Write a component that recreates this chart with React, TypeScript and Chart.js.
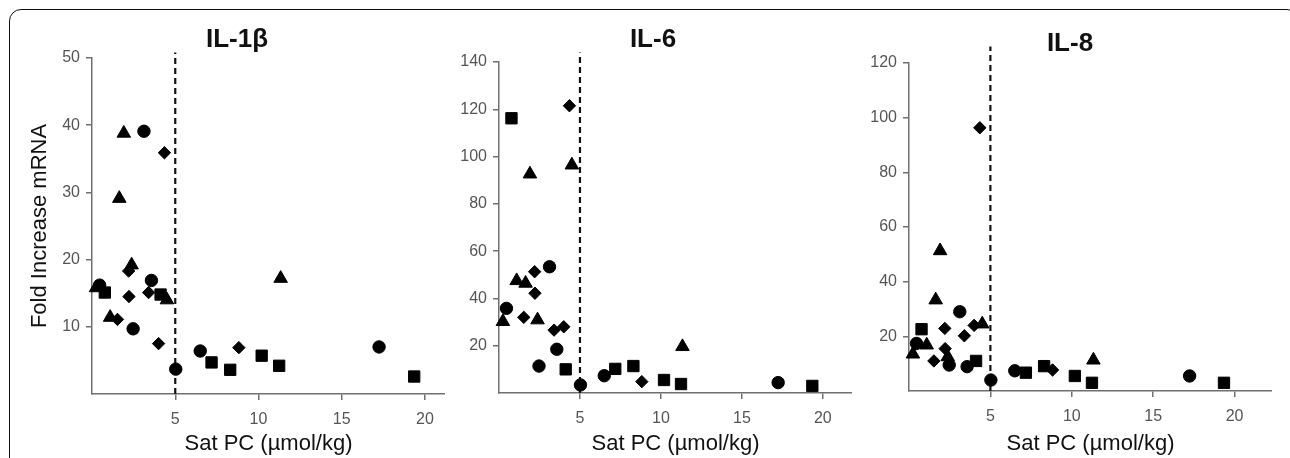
import React, { useEffect, useRef } from "react";
import { Chart, registerables } from "chart.js";

Chart.register(...registerables);

// ---- data (Sat PC, µmol/kg) shared by all three panels, one array per marker group ----
const circleX = [0.46, 2.47, 3.12, 3.57, 5.03, 6.5, 17.24];
const squareX = [0.77, 4.12, 7.18, 8.3, 10.19, 11.24, 19.35];
const triangleX = [0.24, 1.09, 1.64, 1.91, 2.38, 4.5, 11.33];
const diamondX = [1.53, 2.2, 2.22, 3.4, 4.0, 4.35, 8.82];

// IL-1β fold increase
const il1bCircle = [16.2, 9.7, 39.1, 16.9, 3.7, 6.4, 7.0];
const il1bSquare = [15.1, 14.8, 4.7, 3.6, 5.7, 4.2, 2.6];
const il1bTriangle = [15.8, 11.4, 29.1, 38.8, 19.2, 14.0, 17.2];
const il1bDiamond = [11.1, 18.3, 14.5, 15.1, 7.5, 35.9, 6.9];

// IL-6 fold increase
const il6Circle = [35.8, 11.4, 53.4, 18.5, 3.4, 7.3, 4.4];
const il6Square = [116.2, 10.0, 10.2, 11.4, 5.5, 3.8, 3.0];
const il6Triangle = [30.2, 47.5, 46.4, 92.6, 30.9, 96.4, 19.6];
const il6Diamond = [32.0, 51.3, 42.2, 26.6, 28.0, 121.5, 4.8];

// IL-8 fold increase
const il8Circle = [17.4, 9.5, 29.0, 8.9, 4.0, 7.4, 5.5];
const il8Square = [22.6, 11.0, 6.7, 9.1, 5.5, 3.0, 3.0];
const il8Triangle = [13.5, 16.8, 33.3, 51.3, 12.5, 24.5, 11.3];
const il8Diamond = [11.0, 22.9, 15.5, 20.2, 24.0, 96.3, 7.7];

// ticks
const xTicks = [5, 10, 15, 20];
const il1bYTicks = [10, 20, 30, 40, 50];
const il6YTicks = [20, 40, 60, 80, 100, 120, 140];
const il8YTicks = [20, 40, 60, 80, 100, 120];

// cut-off line
const cutoffX = 5;

const xTitle = "Sat PC (µmol/kg)";
const yTitle = "Fold Increase mRNA";

const FONT = "'Liberation Sans', Arial, Helvetica, sans-serif";
const AXIS = "#707070";
const TICK_TXT = "#555";
const H = 458;

type PanelCfg = {
  title: string;
  circle: number[];
  square: number[];
  triangle: number[];
  diamond: number[];
  yTicks: number[];
  yMax: number;
  xMax: number;
  dashTop: number;
  showYTitle: boolean;
  canvasLeft: number;
  canvasWidth: number;
  padLeft: number;
  yWidth: number;
  bottom: number;
  titleTop: number;
  titleBottom: number;
};

const panels: PanelCfg[] = [
  {
    title: "IL-1β",
    circle: il1bCircle,
    square: il1bSquare,
    triangle: il1bTriangle,
    diamond: il1bDiamond,
    yTicks: il1bYTicks,
    yMax: 50,
    xMax: 21.2,
    dashTop: 50.8,
    showYTitle: true,
    canvasLeft: 0,
    canvasWidth: 445,
    padLeft: 29,
    yWidth: 63,
    bottom: 394,
    titleTop: 24.4,
    titleBottom: 2.4,
  },
  {
    title: "IL-6",
    circle: il6Circle,
    square: il6Square,
    triangle: il6Triangle,
    diamond: il6Diamond,
    yTicks: il6YTicks,
    yMax: 140,
    xMax: 21.8,
    dashTop: 144,
    showYTitle: false,
    canvasLeft: 454,
    canvasWidth: 398,
    padLeft: 0,
    yWidth: 45,
    bottom: 393,
    titleTop: 24.4,
    titleBottom: 6.4,
  },
  {
    title: "IL-8",
    circle: il8Circle,
    square: il8Square,
    triangle: il8Triangle,
    diamond: il8Diamond,
    yTicks: il8YTicks,
    yMax: 120,
    xMax: 22.3,
    dashTop: 126,
    showYTitle: false,
    canvasLeft: 868,
    canvasWidth: 404,
    padLeft: 0,
    yWidth: 41,
    bottom: 391,
    titleTop: 28.4,
    titleBottom: 3.4,
  },
];

const pts = (xs: number[], ys: number[]) => xs.map((x, i) => ({ x, y: ys[i] }));

function Panel({ cfg }: { cfg: PanelCfg }) {
  const ref = useRef<HTMLCanvasElement>(null);
  useEffect(() => {
    if (!ref.current) return;
    const marker = (style: string, radius: number) => ({
      pointStyle: style as any,
      pointRadius: radius,
      pointBackgroundColor: "#000",
      pointBorderColor: "#000",
      pointBorderWidth: 1,
      showLine: false,
      clip: false as any,
    });
    const chart = new Chart(ref.current, {
      type: "scatter",
      data: {
        datasets: [
          { data: pts(circleX, cfg.circle), ...marker("circle", 6.2) },
          { data: pts(squareX, cfg.square), ...marker("rect", 8) },
          { data: pts(triangleX, cfg.triangle), ...marker("triangle", 7.8) },
          { data: pts(diamondX, cfg.diamond), ...marker("rectRot", 6.2) },
          {
            data: [
              { x: cutoffX, y: 0 },
              { x: cutoffX, y: cfg.dashTop },
            ],
            showLine: true,
            borderColor: "#111",
            borderWidth: 2.2,
            borderDash: [6, 4],
            pointRadius: 0,
            clip: false as any,
          },
        ],
      },
      options: {
        animation: false,
        responsive: false,
        maintainAspectRatio: false,
        events: [],
        layout: {
          autoPadding: false,
          padding: { left: cfg.padLeft, right: 0, top: 0, bottom: 0 },
        },
        plugins: {
          legend: { display: false },
          tooltip: { enabled: false },
          title: {
            display: true,
            text: cfg.title,
            color: "#111",
            font: { family: FONT, size: 26, weight: "bold", lineHeight: 1.2 },
            padding: { top: cfg.titleTop, bottom: cfg.titleBottom },
          },
        },
        scales: {
          x: {
            type: "linear",
            position: "bottom",
            min: 0,
            max: cfg.xMax,
            afterBuildTicks: (s: any) => {
              s.ticks = xTicks.map((v) => ({ value: v }));
            },
            afterFit: (s: any) => {
              s.height = H - cfg.bottom;
              s.paddingLeft = 0;
              s.paddingRight = 0;
            },
            border: { display: true, color: AXIS, width: 1.5 },
            grid: {
              drawOnChartArea: false,
              drawTicks: true,
              tickLength: 6,
              color: AXIS,
              lineWidth: 1.5,
            },
            ticks: {
              color: TICK_TXT,
              font: { family: FONT, size: 16, lineHeight: 1 },
              padding: 12,
              maxRotation: 0,
              autoSkip: false,
            },
            title: {
              display: true,
              text: xTitle,
              color: "#111",
              font: { family: FONT, size: 22, lineHeight: 1 },
              padding: { top: 0, bottom: 3 },
            },
          },
          y: {
            type: "linear",
            position: "left",
            min: 0,
            max: cfg.yMax,
            afterBuildTicks: (s: any) => {
              s.ticks = cfg.yTicks.map((v) => ({ value: v }));
            },
            afterFit: (s: any) => {
              s.width = cfg.yWidth;
              s.paddingTop = 0;
              s.paddingBottom = 0;
            },
            border: { display: true, color: AXIS, width: 1.5 },
            grid: {
              drawOnChartArea: false,
              drawTicks: true,
              tickLength: 6,
              color: AXIS,
              lineWidth: 1.5,
            },
            ticks: {
              color: TICK_TXT,
              font: { family: FONT, size: 16, lineHeight: 1 },
              padding: 6,
              autoSkip: false,
            },
            title: {
              display: cfg.showYTitle,
              text: yTitle,
              color: "#111",
              font: { family: FONT, size: 22, lineHeight: 1 },
              padding: { top: 0, bottom: 0 },
            },
          },
        },
      },
    });
    return () => chart.destroy();
  }, [cfg]);
  return (
    <canvas
      ref={ref}
      width={cfg.canvasWidth}
      height={H}
      style={{
        position: "absolute",
        left: cfg.canvasLeft,
        top: 0,
        width: cfg.canvasWidth,
        height: H,
      }}
    />
  );
}

export default function App() {
  return (
    <div
      style={{
        position: "absolute",
        left: 0,
        top: 0,
        width: 1290,
        height: H,
        overflow: "hidden",
        background: "#fff",
      }}
    >
      <div
        style={{
          position: "absolute",
          left: 9,
          top: 9,
          width: 1290,
          height: 480,
          border: "1.5px solid #111",
          borderRadius: 12,
          boxSizing: "border-box",
        }}
      />
      {panels.map((p) => (
        <Panel key={p.title} cfg={p} />
      ))}
    </div>
  );
}
